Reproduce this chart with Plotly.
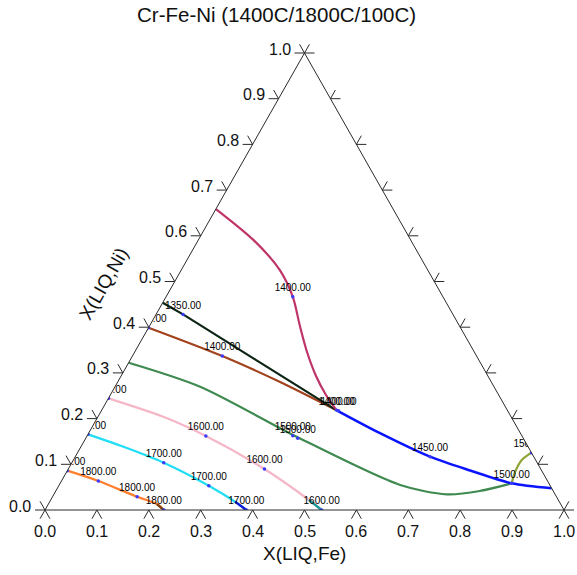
import plotly.graph_objects as go

# ---- data: liquid compositions (mole fraction Fe, Ni) ----
orange_fe = [0.000, 0.071, 0.163, 0.209, 0.229]
orange_ni = [0.086, 0.0635, 0.029, 0.0131, 0.000]
orange_tail_fe = [0.209, 0.229]
orange_tail_ni = [0.0131, 0.000]

cyan_fe = [0.000, 0.090, 0.177, 0.289, 0.357, 0.388]
cyan_ni = [0.1656, 0.1357, 0.1035, 0.0532, 0.0182, 0.000]
cyan_tail_fe = [0.357, 0.388]
cyan_tail_ni = [0.0182, 0.000]

pink_fe = [0.000, 0.126, 0.229, 0.378, 0.4977, 0.533]
pink_ni = [0.2444, 0.204, 0.1619, 0.0897, 0.0219, 0.000]
pink_tail_fe = [0.4977, 0.533]
pink_tail_ni = [0.0219, 0.000]

green_fe = [0.000, 0.164, 0.406, 0.657, 0.757, 0.817, 0.870]
green_ni = [0.3223, 0.2698, 0.1597, 0.0547, 0.0344, 0.0416, 0.0584]

brown_fe = [0.000, 0.173, 0.313, 0.453]
brown_ni = [0.399, 0.337, 0.280, 0.218]

black_fe = [0.000, 0.052, 0.453]
black_ni = [0.4536, 0.428, 0.218]

crimson_fe = [0.000, 0.106, 0.190, 0.244, 0.291, 0.332, 0.3756, 0.4156, 0.453]
crimson_ni = [0.6586, 0.591, 0.525, 0.4668, 0.401, 0.3457, 0.2932, 0.2516, 0.218]

blue_fe = [0.453, 0.5615, 0.6835, 0.776, 0.870, 0.9525]
blue_ni = [0.218, 0.168, 0.1166, 0.0864, 0.0584, 0.0475]

olive_fe = [0.870, 0.864, 0.864, 0.8746]
olive_ni = [0.0584, 0.0838, 0.1094, 0.1254]

# labelled temperature points
label_fe = [0.000, 0.071, 0.163, 0.229,
            0.000, 0.177, 0.289, 0.388,
            0.000, 0.229, 0.378, 0.533,
            0.396, 0.4085,
            0.000, 0.173, 0.453, 0.457,
            0.052, 0.244,
            0.6835, 0.870, 0.8746]
label_ni = [0.086, 0.0635, 0.029, 0.000,
            0.1656, 0.1035, 0.0532, 0.000,
            0.2444, 0.1619, 0.0897, 0.000,
            0.1626, 0.1569,
            0.399, 0.337, 0.218, 0.2173,
            0.428, 0.4668,
            0.1166, 0.0584, 0.1254]
label_text = ["1800.00"] * 4 + ["1700.00"] * 4 + ["1600.00"] * 4 + ["1500.00"] * 2 + \
             ["1400.00"] * 4 + ["1350.00", "1400.00", "1450.00", "1500.00", "1500.00"]

tick_values = [i / 10 for i in range(11)]
tick_labels = [f"{t:.1f}" for t in tick_values]

FONT = "Liberation Sans, Arial, sans-serif"

# ---- frame geometry (pixel mapping of the triangle) ----
PX0, PX1 = 45.0, 564.0      # left/right corner x pixel
PYB, PYT = 510.0, 53.0      # baseline / apex y pixel
W, H = 577, 575
SX = PX1 - PX0
SY = PYB - PYT


def tx(fe, ni):
    return [f + n / 2 for f, n in zip(fe, ni)]


x_range = [(0 - PX0) / SX, (W - PX0) / SX]
y_range = [(PYB - H) / SY, (PYB - 0) / SY]

fig = go.Figure()


def add_line(fe, ni, color, width=2.0, spline=True):
    fig.add_trace(go.Scatter(
        x=tx(fe, ni), y=ni, mode="lines",
        line=dict(color=color, width=width, shape="spline" if spline else "linear", smoothing=0.8),
        hoverinfo="skip", showlegend=False))


add_line(orange_fe, orange_ni, "#ff7f2e", width=2.3)
add_line(orange_tail_fe, orange_tail_ni, "#7a3d14", width=2.3, spline=False)
add_line(cyan_fe, cyan_ni, "#22def4", width=2.3)
add_line(cyan_tail_fe, cyan_tail_ni, "#1414d8", width=2.3, spline=False)
add_line(pink_fe, pink_ni, "#f5b7c7", width=2.3)
add_line(pink_tail_fe, pink_tail_ni, "#1b9a9a", width=2.3, spline=False)
add_line(green_fe, green_ni, "#3f8a50", width=2.2)
add_line(brown_fe, brown_ni, "#a2421c", width=2.2)
add_line(black_fe, black_ni, "#0c2414", width=2.2, spline=False)
add_line(crimson_fe, crimson_ni, "#bf3468", width=2.2)
add_line(blue_fe, blue_ni, "#0a14ff", width=2.5)
add_line(olive_fe, olive_ni, "#8ea535", width=2.2)

fig.add_trace(go.Scatter(
    x=tx(label_fe, label_ni), y=label_ni, mode="markers+text",
    text=label_text, textposition="top center",
    textfont=dict(family=FONT, size=10, color="#000000"),
    marker=dict(size=3.5, color="#3a3aff"),
    hoverinfo="skip", showlegend=False))

shapes = []
# white masks outside the triangle (labels are clipped to the diagram)
for path in ["M 0,0 L 0.5,1 L 0.5,1.4 L -0.4,1.4 L -0.4,0 Z",
             "M 1,0 L 0.5,1 L 0.5,1.4 L 1.4,1.4 L 1.4,0 Z",
             "M -0.4,0 L 1.4,0 L 1.4,-0.4 L -0.4,-0.4 Z"]:
    shapes.append(dict(type="path", path=path, xref="x", yref="y",
                       fillcolor="white", line=dict(width=0), layer="above"))

# triangle edges
shapes.append(dict(type="path", path="M 0,0 L 1,0 L 0.5,1 Z", xref="x", yref="y",
                   line=dict(color="#2a2a2a", width=1), layer="above"))

# tick marks (parallel to the other two sides)
L = 10.0
ux, uy = (PX1 - PX0) / 2, SY
n = (ux ** 2 + uy ** 2) ** 0.5
ux, uy = ux / n, uy / n


def d(px, py_up):
    return px * L / SX, py_up * L / SY


segs = []
for t in tick_values:
    bx, by = t, 0.0
    for ddx, ddy in [d(-ux, -uy), d(ux, -uy)]:
        segs.append(f"M {bx},{by} L {bx + ddx},{by + ddy}")
    lx, ly = t / 2, t
    for ddx, ddy in [d(-1, 0), d(-ux, uy)]:
        segs.append(f"M {lx},{ly} L {lx + ddx},{ly + ddy}")
    rx, ry = 1 - t / 2, t
    for ddx, ddy in [d(1, 0), d(ux, uy)]:
        segs.append(f"M {rx},{ry} L {rx + ddx},{ry + ddy}")
shapes.append(dict(type="path", path=" ".join(segs), xref="x", yref="y",
                   line=dict(color="#2a2a2a", width=1), layer="above"))

annotations = []
for t, lab in zip(tick_values, tick_labels):
    annotations.append(dict(x=t, y=0, xref="x", yref="y", text=lab, showarrow=False,
                            xanchor="center", yanchor="middle", yshift=-21,
                            font=dict(family=FONT, size=16, color="#111111")))
    annotations.append(dict(x=t / 2, y=t, xref="x", yref="y", text=lab, showarrow=False,
                            xanchor="right", yanchor="middle", xshift=-12, yshift=4,
                            font=dict(family=FONT, size=16, color="#111111")))

annotations.append(dict(x=276 / W, y=1 - 15 / H, xref="paper", yref="paper",
                        text="Cr-Fe-Ni (1400C/1800C/100C)", showarrow=False,
                        xanchor="center", yanchor="middle",
                        font=dict(family=FONT, size=20.5, color="#111111")))
annotations.append(dict(x=0.5, y=0, xref="x", yref="y", text="X(LIQ,Fe)", showarrow=False,
                        xanchor="center", yanchor="middle", yshift=-43,
                        font=dict(family=FONT, size=19, color="#111111")))
annotations.append(dict(x=(103 - PX0) / SX, y=(PYB - 284) / SY, xref="x", yref="y",
                        text="X(LIQ,Ni)", showarrow=False, textangle=-60.4,
                        xanchor="center", yanchor="middle",
                        font=dict(family=FONT, size=19, color="#111111")))

fig.update_layout(
    width=W, height=H, autosize=False,
    margin=dict(l=0, r=0, t=0, b=0, pad=0),
    paper_bgcolor="white", plot_bgcolor="white",
    xaxis=dict(range=x_range, visible=False, fixedrange=True),
    yaxis=dict(range=y_range, visible=False, fixedrange=True),
    shapes=shapes, annotations=annotations, showlegend=False,
)

fig.write_html("out.html", config={"displayModeBar": False},
               post_script="document.body.style.margin='0px';document.body.style.overflow='hidden';")
